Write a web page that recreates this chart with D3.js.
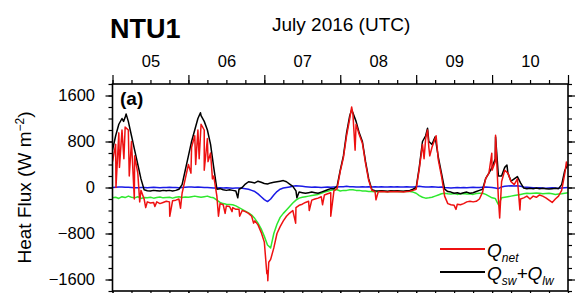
<!DOCTYPE html>
<html>
<head>
<meta charset="utf-8">
<script src="https://cdn.jsdelivr.net/npm/d3@7"></script>
<style>
  body { margin: 0; background: #fff; }
  text { font-family: "Liberation Sans", Arial, Helvetica, sans-serif; fill: #000; }
  .axis path { display: none; }
  .axis line { stroke: #000; stroke-width: 1.2; }
  .axis text { font-size: 16.5px; }
</style>
</head>
<body>
<script>
// hourly values, July 5 00 UTC (h0) .. July 11 00 UTC (h144)
var dayLabels = ["05", "06", "07", "08", "09", "10"];
var yTickValues = [-1600, -800, 0, 800, 1600];

// Qsw+Qlw (black)
var qswlw = [
  650, 900, 1100, 1200, 1220, 1150, 900, 650, 400, 150,
  -40, -55, -60, -50, -55, -60, -50, -55, -50, -60,
  -50, -30, 50, 300, 550, 800, 1000, 1200, 1250, 1150,
  1000, 750, 350, -30, -20, -40, -50, -40, -50, -60,
  -30, 0, 60, 100, 90, 80, 110, 90, 70, 60,
  80, 90, 100, 110, 120, 100, 60, 20, -60, -80,
  -90, -100, -90, -80, -90, -100, -80, -60, -40, -20,
  -20, 20, 300, 550, 950, 1250, 1300, 1150, 950, 800,
  450, 150, -40, -55, -60, -55, -60, -65, -55, -60,
  -55, -60, -65, -55, -50, -30, 0, 360, 800, 900,
  800, 750, 880, 530, 250, -30, -70, -80, -100, -90,
  -110, -90, -80, -100, -90, -70, -50, -30, 160, 250,
  350, 500, 200, 200, 350, 250, 110, 150, 190, 80,
  -10, -20, -15, -20, -10, -20, -15, -20, -25, -20,
  -15, -20, 50, 300, 400
];
var qswlwSpikes = [[3.5, 1150], [4.3, 1280], [27.8, 1300], [39.6, -180], [58.3, -180],
  [75.6, 1350], [99.6, 1030], [121.1, 880], [124.7, 390]];

// Qnet (red)
var qnet = [
  450, 750, 950, 1000, 1050, 1000, 800, 550, 250, -50,
  -200, -250, -270, -260, -250, -280, -260, -240, -250, -230,
  -220, -200, -100, 150, 400, 700, 900, 1000, 1100, 1000,
  850, 600, 200, -150, -280, -300, -320, -330, -350, -380,
  -380, -400, -420, -450, -500, -580, -650, -780, -950, -1450,
  -1250, -1050, -800, -680, -580, -500, -445, -400, -350, -310,
  -290, -260, -240, -220, -200, -185, -160, -130, -110, -90,
  -60, -20, 280, 520, 900, 1200, 1280, 1100, 920, 770,
  420, 120, -50, -70, -75, -70, -75, -80, -70, -75,
  -70, -75, -80, -70, -65, -50, -30, 330, 750, 850,
  700, 700, 850, 480, 200, -150, -280, -300, -310, -290,
  -300, -280, -250, -240, -250, -240, -200, -80, 160, 250,
  300, 450, -200, 100, 300, 250, 100, 50, 150, -200,
  -180, -150, -200, -150, -170, -130, -150, -180, -220, -260,
  -200, -150, -50, 250, 350
];
var qnetSpikes = [[1.1, 0], [2.2, 350], [3.6, 500], [5.3, 200], [6.9, -200], [8.6, -250],
  [10.5, -350], [13.4, -330], [18.1, -500], [21.5, -360], [24.8, 250], [26.3, 400], [27.4, 500],
  [29.0, 300], [30.2, 450], [31.6, 150], [33.5, -500], [35.6, -450], [37.8, -420],
  [40.2, -500], [44.6, -620], [48.8, -1500], [49.1, -1620], [49.4, -1300], [57.9, -620],
  [62.2, -400], [66.4, -300], [69.0, -500], [75.6, 1400], [76.7, 650], [83.3, -215],
  [98.5, 500], [99.6, 1000], [100.3, 550], [102.3, 900], [108.6, -380], [119.9, 595],
  [121.1, 910], [122.4, -530], [128.8, -390], [143.5, 445]];

// green
var qlh = [
  -180, -170, -190, -160, -175, -150, -170, -180, -160, -190,
  -175, -180, -170, -185, -175, -165, -180, -175, -170, -185,
  -170, -160, -175, -165, -170, -160, -150, -160, -170, -160,
  -150, -170, -180, -220, -260, -280, -290, -295, -300, -320,
  -350, -380, -410, -440, -480, -540, -620, -720, -850, -1000,
  -1050, -800, -640, -520, -450, -390, -330, -270, -220, -185,
  -170, -160, -150, -140, -130, -120, -100, -80, -65, -50,
  -40, -40, -60, -50, -50, -40, -40, -50, -50, -60,
  -60, -70, -70, -75, -70, -65, -70, -75, -70, -65,
  -70, -75, -70, -65, -70, -80, -100, -140, -170, -185,
  -180, -170, -150, -130, -110, -100, -110, -115, -105, -120,
  -110, -105, -115, -110, -120, -105, -100, -100, -120, -150,
  -180, -190, -300, -180, -170, -160, -150, -140, -130, -120,
  -110, -100, -105, -100, -95, -100, -110, -105, -100, -110,
  -120, -115, -110, -100, -90
];

// blue
var qsh = [
  0, 5, 10, 10, 5, 5, 0, -5, -5, 0,
  0, -5, 0, 5, 0, -5, 0, 0, 5, 0,
  0, -5, 0, 5, 10, 10, 5, 10, 5, 0,
  0, -5, -10, -10, -5, -10, -5, -10, -15, -10,
  -10, -15, -20, -30, -50, -70, -110, -160, -210, -245,
  -200, -130, -70, -30, -10, 0, 10, 20, 30, 25,
  20, 15, 10, 5, 10, 5, 0, 5, 10, 5,
  10, 10, 15, 15, 20, 15, 15, 10, 10, 15,
  10, 15, 10, 15, 10, 15, 10, 10, 15, 10,
  15, 10, 10, 15, 10, 10, 15, 20, 15, 10,
  10, 15, 10, 5, 10, 0, -5, -10, -5, 0,
  -5, 0, -5, 0, 5, 0, 0, 5, 10, 5,
  0, -10, -20, 10, 20, 25, 30, 25, 30, 20,
  10, 5, 0, -5, -10, -5, -10, -15, -10, -5,
  -10, -15, -10, -5, 0
];

var width = 576, height = 293;
var pLeft = 112.5, pRight = 568, pTop = 84, pBottom = 291;

var svg = d3.select("body").append("svg")
  .attr("width", width)
  .attr("height", height);

var x = d3.scaleLinear().domain([0, 144]).range([pLeft, pRight]);
var y = d3.scaleLinear().domain([-1800, 1800]).range([pBottom, pTop]);

function toPoints(vals, spikes) {
  var pts = vals.map(function(v, i) { return [i, v]; });
  if (spikes) pts = pts.concat(spikes);
  return pts.sort(function(a, b) { return a[0] - b[0]; });
}

var line = d3.line()
  .x(function(d) { return x(d[0]); })
  .y(function(d) { return y(d[1]); });

svg.append("clipPath").attr("id", "clip")
  .append("rect")
  .attr("x", pLeft).attr("y", pTop)
  .attr("width", pRight - pLeft).attr("height", pBottom - pTop);

var plot = svg.append("g").attr("clip-path", "url(#clip)");

var series = [
  {pts: toPoints(qlh), color: "#2ee82e"},
  {pts: toPoints(qsh), color: "#1a1ae6"},
  {pts: toPoints(qswlw, qswlwSpikes), color: "#000"},
  {pts: toPoints(qnet, qnetSpikes), color: "#ee1111"}
];

plot.selectAll(".series").data(series).enter()
  .append("path")
  .attr("class", "series")
  .attr("d", function(d) { return line(d.pts); })
  .attr("fill", "none")
  .attr("stroke", function(d) { return d.color; })
  .attr("stroke-width", 1.5)
  .attr("stroke-linejoin", "round");

// ticks: days major, 6h minor
var dayTicks = d3.range(0, 145, 24);
var hourTicks = d3.range(0, 145, 6);
var minorY = d3.range(-1800, 1801, 200);

function addAxis(axis, tx, ty) {
  return svg.append("g").attr("class", "axis")
    .attr("transform", "translate(" + tx + "," + ty + ")")
    .call(axis);
}

addAxis(d3.axisTop(x).tickValues(hourTicks).tickSize(4).tickFormat(""), 0, pTop);
addAxis(d3.axisTop(x).tickValues(dayTicks).tickSize(9).tickFormat(""), 0, pTop);
addAxis(d3.axisTop(x).tickValues(dayTicks.slice(0, 6).map(function(d) { return d + 12; }))
  .tickSize(0).tickPadding(17.5).tickFormat(function(d, i) { return dayLabels[i]; }), 0, pTop)
  .selectAll("line").remove();

addAxis(d3.axisBottom(x).tickValues(hourTicks).tickSize(4).tickFormat(""), 0, pBottom);
addAxis(d3.axisBottom(x).tickValues(dayTicks).tickSize(9).tickFormat(""), 0, pBottom);

addAxis(d3.axisLeft(y).tickValues(minorY).tickSize(4).tickFormat(""), pLeft, 0);
addAxis(d3.axisLeft(y).tickValues(yTickValues).tickSize(7).tickPadding(10.5)
  .tickFormat(d3.format("d")), pLeft, 0);
addAxis(d3.axisRight(y).tickValues(minorY).tickSize(4).tickFormat(""), pRight, 0);
addAxis(d3.axisRight(y).tickValues(yTickValues).tickSize(7).tickFormat(""), pRight, 0);

// frame
svg.append("rect")
  .attr("x", pLeft).attr("y", pTop)
  .attr("width", pRight - pLeft).attr("height", pBottom - pTop)
  .attr("fill", "none")
  .attr("stroke", "#000")
  .attr("stroke-width", 1.6);

svg.append("text")
  .attr("x", 110).attr("y", 38)
  .attr("font-size", "27px").attr("font-weight", "bold")
  .text("NTU1");

svg.append("text")
  .attr("x", 272).attr("y", 31)
  .attr("font-size", "19px")
  .text("July 2016 (UTC)");

svg.append("text")
  .attr("x", 120).attr("y", 105)
  .attr("font-size", "19px").attr("font-weight", "bold")
  .text("(a)");

var ylab = svg.append("text")
  .attr("transform", "translate(31," + (y(0)) + ") rotate(-90)")
  .attr("text-anchor", "middle")
  .attr("font-size", "19px");
ylab.append("tspan").text("Heat Flux (W m");
ylab.append("tspan").attr("font-size", "12px").attr("dy", "-7").text("\u22122");
ylab.append("tspan").attr("dy", "7").text(")");

// legend
var legend = [
  {color: "#ee1111", parts: [["Q", ""], ["net", "sub"]], y: 249},
  {color: "#000", parts: [["Q", ""], ["sw", "sub"], ["+Q", ""], ["lw", "sub"]], y: 272}
];

var lg = svg.selectAll(".legend").data(legend).enter().append("g").attr("class", "legend");
lg.append("line")
  .attr("x1", 440).attr("x2", 485)
  .attr("y1", function(d) { return d.y; }).attr("y2", function(d) { return d.y; })
  .attr("stroke", function(d) { return d.color; })
  .attr("stroke-width", 2);
lg.append("text")
  .attr("x", 487)
  .attr("y", function(d) { return d.y + 7.5; })
  .attr("font-size", "19px")
  .attr("font-style", "italic")
  .each(function(d) {
    var t = d3.select(this), shift = 0;
    d.parts.forEach(function(p) {
      var s = t.append("tspan").text(p[0]);
      if (p[1] === "sub") { s.attr("font-size", "12px").attr("dy", 5 - shift); shift = 5; }
      else { s.attr("dy", -shift); shift = 0; }
    });
  });
</script>
</body>
</html>
